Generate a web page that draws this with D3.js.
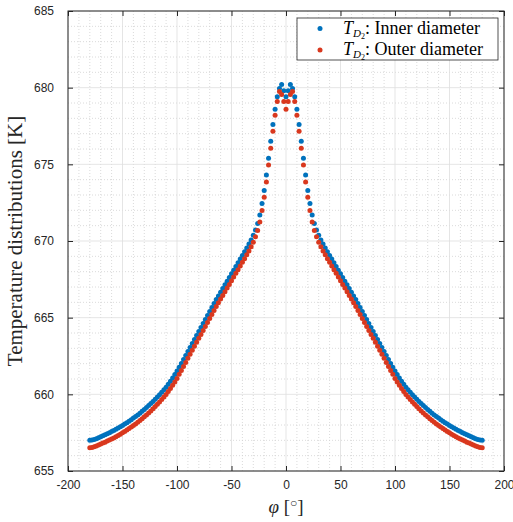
<!DOCTYPE html>
<html>
<head>
<meta charset="utf-8">
<script src="https://cdn.jsdelivr.net/npm/d3@7"></script>
<style>
  body { margin: 0; background: #fff; }
  svg { display: block; }
  .tick text { font-family: "Liberation Sans", Arial, sans-serif; font-size: 12px; fill: #262626; }
</style>
</head>
<body>
<div id="chart"></div>
<script>
// angle axis (degrees), one point every 2 degrees
var phi = d3.range(-180, 181, 2);

// T_D2 on the inner diameter (-180 ... 180)
var innerT = [
  657.00, 657.02, 657.06, 657.11, 657.17, 657.24, 657.30, 657.36, 657.43, 657.50,
  657.57, 657.64, 657.72, 657.80, 657.88, 657.97, 658.06, 658.15, 658.25, 658.35,
  658.45, 658.55, 658.66, 658.77, 658.89, 659.01, 659.14, 659.27, 659.40, 659.54,
  659.68, 659.83, 659.98, 660.14, 660.30, 660.47, 660.66, 660.86, 661.07, 661.29,
  661.52, 661.76, 662.01, 662.27, 662.53, 662.80, 663.06, 663.32, 663.58, 663.84,
  664.10, 664.36, 664.62, 664.88, 665.14, 665.40, 665.66, 665.92, 666.18, 666.42,
  666.66, 666.90, 667.14, 667.38, 667.62, 667.86, 668.10, 668.34, 668.58, 668.82,
  669.06, 669.30, 669.55, 669.80, 670.07, 670.37, 670.72, 671.14, 671.69, 672.44,
  673.30, 674.30, 675.40, 676.50, 677.60, 678.60, 679.40, 679.95, 680.20, 679.80,
  679.40,
  679.80, 680.20, 679.95, 679.40, 678.60, 677.60, 676.50, 675.40, 674.30, 673.30,
  672.44, 671.69, 671.14, 670.72, 670.37, 670.07, 669.80, 669.55, 669.30, 669.06,
  668.82, 668.58, 668.34, 668.10, 667.86, 667.62, 667.38, 667.14, 666.90, 666.66,
  666.42, 666.18, 665.92, 665.66, 665.40, 665.14, 664.88, 664.62, 664.36, 664.10,
  663.84, 663.58, 663.32, 663.06, 662.80, 662.53, 662.27, 662.01, 661.76, 661.52,
  661.29, 661.07, 660.86, 660.66, 660.47, 660.30, 660.14, 659.98, 659.83, 659.68,
  659.54, 659.40, 659.27, 659.14, 659.01, 658.89, 658.77, 658.66, 658.55, 658.45,
  658.35, 658.25, 658.15, 658.06, 657.97, 657.88, 657.80, 657.72, 657.64, 657.57,
  657.50, 657.43, 657.36, 657.30, 657.24, 657.17, 657.11, 657.06, 657.02, 657.00
];

// T_D2 on the outer diameter (-180 ... 180)
var outerT = [
  656.52, 656.54, 656.58, 656.63, 656.69, 656.76, 656.82, 656.88, 656.95, 657.02,
  657.09, 657.16, 657.24, 657.32, 657.40, 657.49, 657.58, 657.67, 657.77, 657.87,
  657.97, 658.07, 658.18, 658.29, 658.41, 658.53, 658.66, 658.79, 658.92, 659.06,
  659.20, 659.35, 659.50, 659.66, 659.82, 659.99, 660.18, 660.38, 660.59, 660.81,
  661.04, 661.31, 661.56, 661.82, 662.08, 662.35, 662.61, 662.87, 663.13, 663.39,
  663.65, 663.91, 664.17, 664.43, 664.69, 664.95, 665.21, 665.47, 665.73, 665.97,
  666.21, 666.45, 666.69, 666.93, 667.17, 667.41, 667.65, 667.89, 668.13, 668.37,
  668.61, 668.85, 669.10, 669.35, 669.62, 669.92, 670.27, 670.69, 671.24, 671.99,
  672.85, 673.85, 674.95, 676.05, 677.15, 678.20, 679.10, 679.75, 679.55, 679.10,
  678.60,
  679.10, 679.55, 679.75, 679.10, 678.20, 677.15, 676.05, 674.95, 673.85, 672.85,
  671.99, 671.24, 670.69, 670.27, 669.92, 669.62, 669.35, 669.10, 668.85, 668.61,
  668.37, 668.13, 667.89, 667.65, 667.41, 667.17, 666.93, 666.69, 666.45, 666.21,
  665.97, 665.73, 665.47, 665.21, 664.95, 664.69, 664.43, 664.17, 663.91, 663.65,
  663.39, 663.13, 662.87, 662.61, 662.35, 662.08, 661.82, 661.56, 661.31, 661.04,
  660.81, 660.59, 660.38, 660.18, 659.99, 659.82, 659.66, 659.50, 659.35, 659.20,
  659.06, 658.92, 658.79, 658.66, 658.53, 658.41, 658.29, 658.18, 658.07, 657.97,
  657.87, 657.77, 657.67, 657.58, 657.49, 657.40, 657.32, 657.24, 657.16, 657.09,
  657.02, 656.95, 656.88, 656.82, 656.76, 656.69, 656.63, 656.58, 656.54, 656.52
];

var xTicks = [-200, -150, -100, -50, 0, 50, 100, 150, 200];
var yTicks = [655, 660, 665, 670, 675, 680, 685];
var seriesNames = ["Inner diameter", "Outer diameter"];
var seriesColors = ["#0072BD", "#D9381E"];

var svgWidth = 513, svgHeight = 522;
var margin = { top: 11, right: 9, bottom: 51, left: 68 };
var width = svgWidth - margin.left - margin.right;
var height = svgHeight - margin.top - margin.bottom;

var svg = d3.select("#chart").append("svg")
    .attr("width", svgWidth)
    .attr("height", svgHeight);

var chartGroup = svg.append("g")
    .attr("transform", `translate(${margin.left}, ${margin.top})`);

var xScale = d3.scaleLinear().domain([-200, 200]).range([0, width]);
var yScale = d3.scaleLinear().domain([655, 685]).range([height, 0]);

// minor grid (dotted)
chartGroup.append("g").selectAll("line")
    .data(d3.range(-200, 201, 10).filter(d => d % 50 !== 0))
    .enter().append("line")
    .attr("x1", d => xScale(d)).attr("x2", d => xScale(d))
    .attr("y1", 0).attr("y2", height)
    .attr("stroke", "#d0d0d0").attr("stroke-width", 0.8)
    .attr("stroke-dasharray", "1,2");
chartGroup.append("g").selectAll("line")
    .data(d3.range(655, 686, 1).filter(d => d % 5 !== 0))
    .enter().append("line")
    .attr("y1", d => yScale(d)).attr("y2", d => yScale(d))
    .attr("x1", 0).attr("x2", width)
    .attr("stroke", "#d0d0d0").attr("stroke-width", 0.8)
    .attr("stroke-dasharray", "1,2");

// major grid
chartGroup.append("g").selectAll("line")
    .data(xTicks)
    .enter().append("line")
    .attr("x1", d => xScale(d)).attr("x2", d => xScale(d))
    .attr("y1", 0).attr("y2", height)
    .attr("stroke", "#dedede").attr("stroke-width", 0.8);
chartGroup.append("g").selectAll("line")
    .data(yTicks)
    .enter().append("line")
    .attr("y1", d => yScale(d)).attr("y2", d => yScale(d))
    .attr("x1", 0).attr("x2", width)
    .attr("stroke", "#dedede").attr("stroke-width", 0.8);

// data points
[innerT, outerT].forEach(function(values, k) {
    chartGroup.append("g").selectAll("circle")
        .data(values)
        .enter().append("circle")
        .attr("cx", (d, i) => xScale(phi[i]))
        .attr("cy", d => yScale(d))
        .attr("r", 2.5)
        .attr("fill", seriesColors[k]);
});

// axes, ticks pointing inward
var xAxis = d3.axisBottom(xScale).tickValues(xTicks).tickSizeInner(-5).tickSizeOuter(0)
    .tickPadding(9).tickFormat(d => d.toString());
var yAxis = d3.axisLeft(yScale).tickValues(yTicks).tickSizeInner(-5).tickSizeOuter(0)
    .tickPadding(14).tickFormat(d => d.toString());

chartGroup.append("g").attr("transform", `translate(0, ${height})`).call(xAxis);
chartGroup.append("g").call(yAxis);
chartGroup.append("g").call(d3.axisTop(xScale).tickValues(xTicks).tickSizeInner(-5).tickSizeOuter(0).tickFormat(""));
chartGroup.append("g").attr("transform", `translate(${width}, 0)`)
    .call(d3.axisRight(yScale).tickValues(yTicks).tickSizeInner(-5).tickSizeOuter(0).tickFormat(""));
chartGroup.selectAll(".domain").remove();
chartGroup.selectAll(".tick line").attr("stroke", "#262626");

// box
chartGroup.append("rect")
    .attr("width", width).attr("height", height)
    .attr("fill", "none").attr("stroke", "#262626").attr("stroke-width", 1);

// axis labels
chartGroup.append("text")
    .attr("transform", `translate(${-46}, ${height / 2}) rotate(-90)`)
    .attr("text-anchor", "middle")
    .attr("font-family", "'Liberation Serif', 'DejaVu Serif', serif")
    .attr("font-size", "21px")
    .attr("fill", "#262626")
    .text("Temperature distributions [K]");

var xLabel = chartGroup.append("text")
    .attr("x", xScale(0)).attr("y", height + 42)
    .attr("text-anchor", "middle")
    .attr("font-family", "'Liberation Serif', 'DejaVu Serif', serif")
    .attr("font-size", "19px")
    .attr("fill", "#262626");
xLabel.append("tspan").attr("font-style", "italic").text("φ");
xLabel.append("tspan").text(" [");
xLabel.append("tspan").attr("font-size", "12px").attr("dy", -6).text("○");
xLabel.append("tspan").attr("dy", 6).text("]");

// legend
var legend = chartGroup.append("g").attr("transform", `translate(${297 - margin.left}, ${18 - margin.top})`);
legend.append("rect")
    .attr("width", 201).attr("height", 42)
    .attr("fill", "#fff").attr("stroke", "#262626").attr("stroke-width", 0.8);
seriesNames.forEach(function(name, k) {
    var row = legend.append("g").attr("transform", `translate(0, ${10.5 + k * 21.5})`);
    row.append("circle").attr("cx", 23).attr("cy", 0).attr("r", 2.5).attr("fill", seriesColors[k]);
    var t = row.append("text")
        .attr("x", 46).attr("y", 5)
        .attr("font-family", "'Liberation Serif', 'DejaVu Serif', serif")
        .attr("font-size", "18px")
        .attr("fill", "#000");
    t.append("tspan").attr("font-style", "italic").text("T");
    t.append("tspan").attr("font-style", "italic").attr("font-size", "11px").attr("dy", 3).text("D");
    t.append("tspan").attr("font-size", "8px").attr("dy", 2).text("2");
    t.append("tspan").attr("dy", -5).text(": " + name);
});
</script>
</body>
</html>
